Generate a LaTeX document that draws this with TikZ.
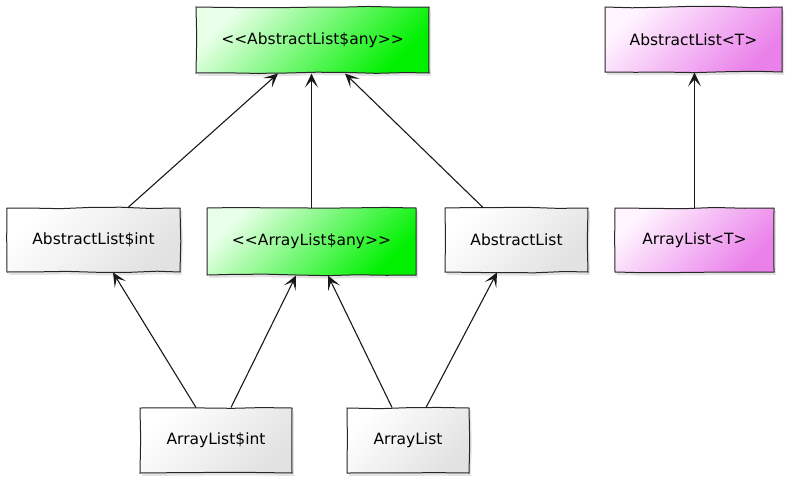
\documentclass[tikz,border=0pt]{standalone}
\usepackage{fontspec}
\setmainfont{DejaVu Sans}
\usetikzlibrary{arrows.meta,shadows,decorations.pathmorphing,calc}
\definecolor{grayend}{HTML}{E2E2E2}
\definecolor{greenend}{HTML}{00F000}
\definecolor{greenstart}{HTML}{E8FFE8}
\definecolor{pinkend}{HTML}{EA80EA}
\definecolor{pinkstart}{HTML}{FFF4FF}
\begin{document}
\begin{tikzpicture}[x=1pt,y=-1pt,
  cls/.style={draw=black!85, line width=1pt, inner sep=0pt,
    font=\fontsize{15.5}{18}\selectfont,
    drop shadow={opacity=0.22,shadow xshift=2pt,shadow yshift=-3pt},
    decorate, decoration={random steps,segment length=30pt,amplitude=0.8pt},
    shading angle=45},
  grayc/.style={cls, top color=white, bottom color=grayend, shading angle=45},
  greenc/.style={cls, top color=greenstart, bottom color=greenend, shading angle=45},
  pinkc/.style={cls, top color=pinkstart, bottom color=pinkend, shading angle=45},
  arr/.style={draw=black!90, line width=1.1pt, -{Stealth[length=14pt,width=13pt,inset=7pt]}}]
\pgfmathsetseed{7}
\useasboundingbox (0,0) rectangle (789,480);
\node[greenc, minimum width=233pt, minimum height=66pt] (ala) at (312.5,40) {{<}{<}AbstractList\$any{>}{>}};
\node[pinkc, minimum width=177pt, minimum height=65pt] (alT) at (693.5,39.5) {AbstractList{<}T{>}};
\node[grayc, minimum width=173pt, minimum height=64pt] (ali) at (93.5,240) {AbstractList\$int};
\node[greenc, minimum width=209pt, minimum height=67pt] (ara) at (311.5,241.5) {{<}{<}ArrayList\$any{>}{>}};
\node[grayc, minimum width=143pt, minimum height=64pt] (al) at (516.5,240) {AbstractList};
\node[pinkc, minimum width=159pt, minimum height=64pt] (arT) at (694.5,240) {ArrayList{<}T{>}};
\node[grayc, minimum width=152pt, minimum height=65pt] (ari) at (216,440.5) {ArrayList\$int};
\node[grayc, minimum width=122pt, minimum height=65pt] (ar) at (408,440.5) {ArrayList};
\draw[arr] ($(ali.north)+(34.5,0)$) -- ($(ala.south)+(-34.5,0)$);
\draw[arr] (ara.north) -- (ara.north |- ala.south);
\draw[arr] ($(al.north)+(-33.5,0)$) -- ($(ala.south)+(32.5,0)$);
\draw[arr] ($(ari.north)+(-20,0)$) -- ($(ali.south)+(19.5,0)$);
\draw[arr] ($(ari.north)+(15,0)$) -- ($(ara.south)+(-15.5,0)$);
\draw[arr] ($(ar.north)+(-16,0)$) -- ($(ara.south)+(16.5,0)$);
\draw[arr] ($(ar.north)+(18,0)$) -- ($(al.south)+(-19.5,0)$);
\draw[arr] (arT.north) -- (arT.north |- alT.south);
\end{tikzpicture}
\end{document}
